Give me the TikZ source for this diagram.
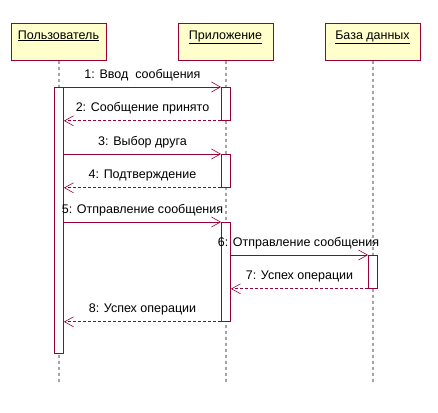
\documentclass[tikz,border=0pt]{standalone}
\usepackage{fontspec}
\setmainfont{Liberation Sans}
\usetikzlibrary{arrows.meta}
\definecolor{umlred}{HTML}{990033}
\definecolor{umlfill}{HTML}{FFFFCC}
\begin{document}
\begin{tikzpicture}[x=1pt,y=-1pt,
  obj/.style={draw=umlred,fill=umlfill,line width=0.8pt,minimum width=95pt,minimum height=37pt,anchor=north west,inner sep=0pt,text depth=0pt},
  hdr/.style={anchor=base,inner sep=0pt,font=\fontsize{12.5}{14}\selectfont},
  life/.style={line width=0.8pt,dash pattern=on 3pt off 3pt},
  act/.style={draw=umlred,fill=white,line width=0.8pt,minimum width=9pt,inner sep=0pt,anchor=north},
  msg/.style={draw=umlred,line width=0.8pt,-{Straight Barb[length=9pt,width=10pt,line width=0.6pt]}},
  ret/.style={msg,dash pattern=on 3pt off 2pt},
  lbl/.style={font=\fontsize{12.5}{14}\selectfont,inner sep=0pt,above=9pt,anchor=base}]
\useasboundingbox (0,0) rectangle (438,412);
% objects
\node[obj] (u) at (11,23) {};
\node[hdr] (ut) at (58.5,39) {\underline{Пользователь}};
\node[obj] (p) at (178,23) {};
\node[hdr] (pt) at (225.5,39) {\underline{Приложение}};
\node[obj] (d) at (325,23) {};
\node[hdr] (dt) at (372.5,39) {\underline{База данных}};
% lifelines
\coordinate (ue) at (59,383);
\coordinate (pe) at (226,383);
\coordinate (de) at (373,383);
\draw[life] (u.south) -- (ue);
\draw[life] (p.south) -- (pe);
\draw[life] (d.south) -- (de);
% activations
\node[act,minimum height=266pt] (ua) at (59,87) {};
\node[act,minimum height=33pt] (pa1) at (226,87) {};
\node[act,minimum height=33pt] (pa2) at (226,154) {};
\node[act,minimum height=99pt] (pa3) at (226,222) {};
\node[act,minimum height=33pt] (da) at (373,255) {};
% messages
\draw[msg] (ua.north east) -- (pa1.north west) node[midway,lbl] (m1) {1: Ввод\ \ сообщения};
\draw[ret] (pa1.south west) -- (ua.east |- pa1.south) node[midway,lbl] (m2) {2: Сообщение принято};
\draw[msg] (ua.east |- pa2.north) -- (pa2.north west) node[midway,lbl] (m3) {3: Выбор друга};
\draw[ret] (pa2.south west) -- (ua.east |- pa2.south) node[midway,lbl] (m4) {4: Подтверждение};
\draw[msg] (ua.east |- pa3.north) -- (pa3.north west) node[midway,lbl] (m5) {5: Отправление сообщения};
\draw[msg] (pa3.east |- da.north) -- (da.north west) node[midway,lbl,xshift=-1pt] (m6) {6: Отправление сообщения};
\draw[ret] (da.south west) -- (pa3.east |- da.south) node[midway,lbl] (m7) {7: Успех операции};
\draw[ret] (pa3.south west) -- (ua.east |- pa3.south) node[midway,lbl] (m8) {8: Успех операции};
\end{tikzpicture}
\end{document}
